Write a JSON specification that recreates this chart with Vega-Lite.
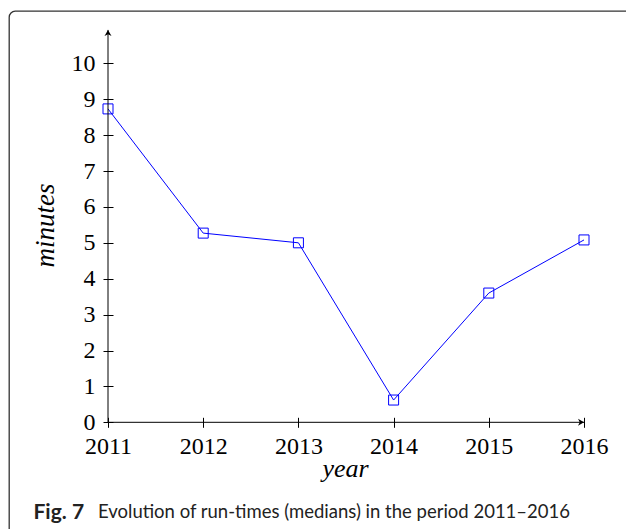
{
  "$schema": "https://vega.github.io/schema/vega-lite/v6.json",
  "autosize": "none",
  "padding": {"left": 9, "top": 11, "right": 0, "bottom": 0},
  "width": 640,
  "height": 540,
  "background": "white",
  "title": {
    "text": "Evolution of run-times (medians) in the period 2011–2016",
    "orient": "bottom",
    "anchor": "start",
    "frame": "group",
    "offset": -32.7,
    "dx": 89,
    "baseline": "alphabetic",
    "font": "Lato",
    "fontSize": 18.5,
    "fontWeight": "normal",
    "color": "#222"
  },
  "resolve": {"axis": {"x": "independent"}},
  "layer": [
    {
      "data": {"values": [{}]},
      "mark": {"type": "rule", "color": "black", "strokeWidth": 1},
      "encoding": {
        "x": {
          "datum": 2011,
          "type": "quantitative",
          "scale": {"domain": [2009.96, 2016.6827], "nice": false, "zero": false},
          "axis": {
            "orient": "top",
            "title": "Fig. 7",
            "titleX": 24,
            "titleY": 507.3,
            "titleAlign": "left",
            "titleAnchor": null,
            "titleBaseline": "alphabetic",
            "titleFont": "Lato",
            "titleFontSize": 21,
            "titleFontWeight": "bold",
            "titleColor": "#222",
            "labels": false,
            "ticks": false,
            "domain": false,
            "grid": false
          }
        },
        "x2": {"datum": 2016},
        "y": {"datum": 0, "type": "quantitative"}
      }
    },
    {
      "layer": [
        {
          "data": {
            "values": [
              {"year": 2011, "minutes": 8.73},
              {"year": 2012, "minutes": 5.27},
              {"year": 2013, "minutes": 5.0},
              {"year": 2014, "minutes": 0.62},
              {"year": 2015, "minutes": 3.6},
              {"year": 2016, "minutes": 5.08}
            ]
          },
          "mark": {
            "type": "line",
            "color": "#0000ff",
            "strokeWidth": 1,
            "point": {"shape": "square", "filled": false, "size": 100, "color": "#0000ff", "strokeWidth": 1}
          },
          "encoding": {
            "x": {
              "field": "year",
              "type": "quantitative",
              "scale": {"domain": [2009.96, 2016.6827], "nice": false, "zero": false},
              "axis": {
                "orient": "bottom",
                "offset": -133.7,
                "values": [2011, 2012, 2013, 2014, 2015, 2016],
                "format": "d",
                "domain": false,
                "grid": false,
                "ticks": true,
                "tickSize": 10,
                "tickColor": "black",
                "tickWidth": 1,
                "labelPadding": 7,
                "labelFont": "Liberation Serif",
                "labelFontSize": 24,
                "labelColor": "black",
                "labelFlush": false,
                "labelOverlap": false,
                "title": "year",
                "titleX": 336,
                "titleY": 59,
                "titleAlign": "center",
                "titleAnchor": null,
                "titleBaseline": "alphabetic",
                "titleFont": "Liberation Serif",
                "titleFontStyle": "italic",
                "titleFontWeight": "normal",
                "titleFontSize": 26,
                "titleColor": "black"
              }
            },
            "y": {
              "field": "minutes",
              "type": "quantitative",
              "scale": {"domain": [-3.585, 11.457], "nice": false, "zero": false},
              "axis": {
                "orient": "left",
                "offset": -104,
                "values": [0, 1, 2, 3, 4, 5, 6, 7, 8, 9, 10],
                "domain": false,
                "grid": false,
                "ticks": true,
                "tickSize": 10,
                "tickColor": "black",
                "tickWidth": 1,
                "labelPadding": 8,
                "labelFont": "Liberation Serif",
                "labelFontSize": 24,
                "labelColor": "black",
                "labelFlush": false,
                "labelOverlap": false,
                "title": "minutes",
                "titleX": -60,
                "titleY": 214,
                "titleAngle": -90,
                "titleAlign": "center",
                "titleAnchor": null,
                "titleBaseline": "alphabetic",
                "titleFont": "Liberation Serif",
                "titleFontStyle": "italic",
                "titleFontWeight": "normal",
                "titleFontSize": 27,
                "titleColor": "black"
              }
            }
          }
        },
        {
          "data": {"values": [{}]},
          "mark": {"type": "rule", "color": "black", "strokeWidth": 1},
          "encoding": {
            "x": {"datum": 2011, "type": "quantitative"},
            "y": {"datum": 0, "type": "quantitative"},
            "y2": {"datum": 10.93}
          }
        },
        {
          "data": {"values": [{}]},
          "mark": {"type": "point", "filled": true, "color": "black", "size": 100, "opacity": 1, "strokeWidth": 0, "shape": "M0,0 L0.7,1.2 L0,0.85 L-0.7,1.2 Z"},
          "encoding": {
            "x": {"datum": 2011, "type": "quantitative"},
            "y": {"datum": 10.93, "type": "quantitative"}
          }
        },
        {
          "data": {"values": [{}]},
          "mark": {"type": "point", "filled": true, "color": "black", "size": 100, "opacity": 1, "strokeWidth": 0, "shape": "M0,0 L-1.2,-0.7 L-0.85,0 L-1.2,0.7 Z"},
          "encoding": {
            "x": {"datum": 2016, "type": "quantitative"},
            "y": {"datum": 0, "type": "quantitative"}
          }
        }
      ]
    }
  ],
  "config": {
    "view": {"stroke": "#333", "strokeWidth": 1.3, "cornerRadius": 6, "fill": null}
  }
}
